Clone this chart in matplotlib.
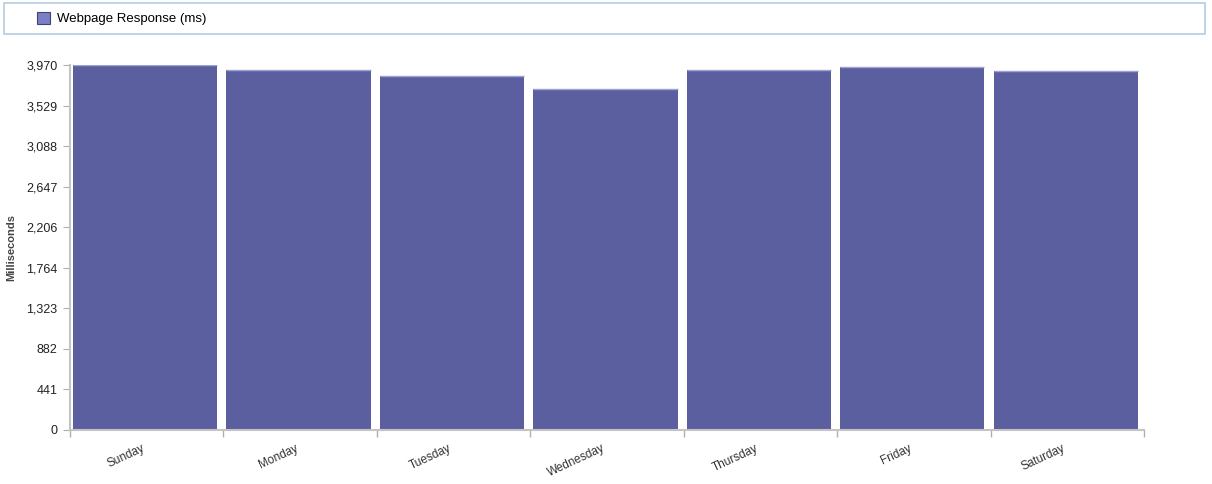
import matplotlib
matplotlib.use("Agg")
import matplotlib.pyplot as plt
from matplotlib.patches import Rectangle, Patch
from matplotlib.ticker import FixedLocator, FuncFormatter
import numpy as np

days = ["Sunday", "Monday", "Tuesday", "Wednesday", "Thursday", "Friday", "Saturday"]
response_ms = [3970, 3916, 3850, 3709, 3916, 3952, 3905]
y_ticks = [0, 441, 882, 1323, 1764, 2206, 2647, 3088, 3529, 3970]
series_name = "Webpage Response (ms)"
y_label = "Milliseconds"

plt.rcParams['font.family'] = ['Liberation Sans', 'DejaVu Sans']

W, H = 1212, 484
fig = plt.figure(figsize=(W / 100, H / 100), dpi=100)
ax = fig.add_axes([70 / W, 1 - 430 / H, (1144 - 70) / W, (430 - 65) / H])

bar_color = "#5b5f9f"
x = np.arange(len(days))
ax.bar(x + 0.02, response_ms, width=0.94, align='edge', color=bar_color,
       edgecolor="none", zorder=2)
# light top edge on each bar
ax.hlines(response_ms, x + 0.02, x + 0.96, color="#9ea2d6", linewidth=1.0, zorder=3)

ax.set_xlim(0, len(days))
ax.set_ylim(0, 3970)

for s in ["top", "right"]:
    ax.spines[s].set_visible(False)
for s in ["left", "bottom"]:
    ax.spines[s].set_color("#c4c4c4")
    ax.spines[s].set_linewidth(1.5)

ax.yaxis.set_major_locator(FixedLocator(y_ticks))
ax.yaxis.set_major_formatter(FuncFormatter(lambda v, p: f"{int(round(v)):,}"))
ax.tick_params(axis='y', length=5, color="#b0b0b0", labelsize=9, labelcolor="#222222", pad=4)

ax.set_xticks(x + 0.5)
ax.set_xticklabels(days, rotation=25, ha='right', va='top', fontsize=8.5, color="#333333")
ax.tick_params(axis='x', which='major', length=0, pad=9)
ax.set_xticks(np.arange(len(days) + 1), minor=True)
ax.tick_params(axis='x', which='minor', length=5, color="#b0b0b0", width=1)

ax.set_ylabel(y_label, fontsize=8, fontweight='bold', color="#444444")
ax.yaxis.set_label_coords(-54 / (1144 - 70), 0.5)

# legend box
fig.patches.append(Rectangle((4 / W, 1 - 34 / H), 1201 / W, 31 / H, transform=fig.transFigure,
                             facecolor="white", edgecolor="#b3cde0", linewidth=1.2))
handle = Patch(facecolor="#7a7fc8", edgecolor="#444466", linewidth=0.8)
fig.legend([handle], [series_name], loc='center left', bbox_to_anchor=(25 / W, 1 - 18.5 / H),
           frameon=False, fontsize=9.5, handlelength=1.0, handleheight=1.0, handletextpad=0.5)

fig.savefig("out.png", dpi=100)
